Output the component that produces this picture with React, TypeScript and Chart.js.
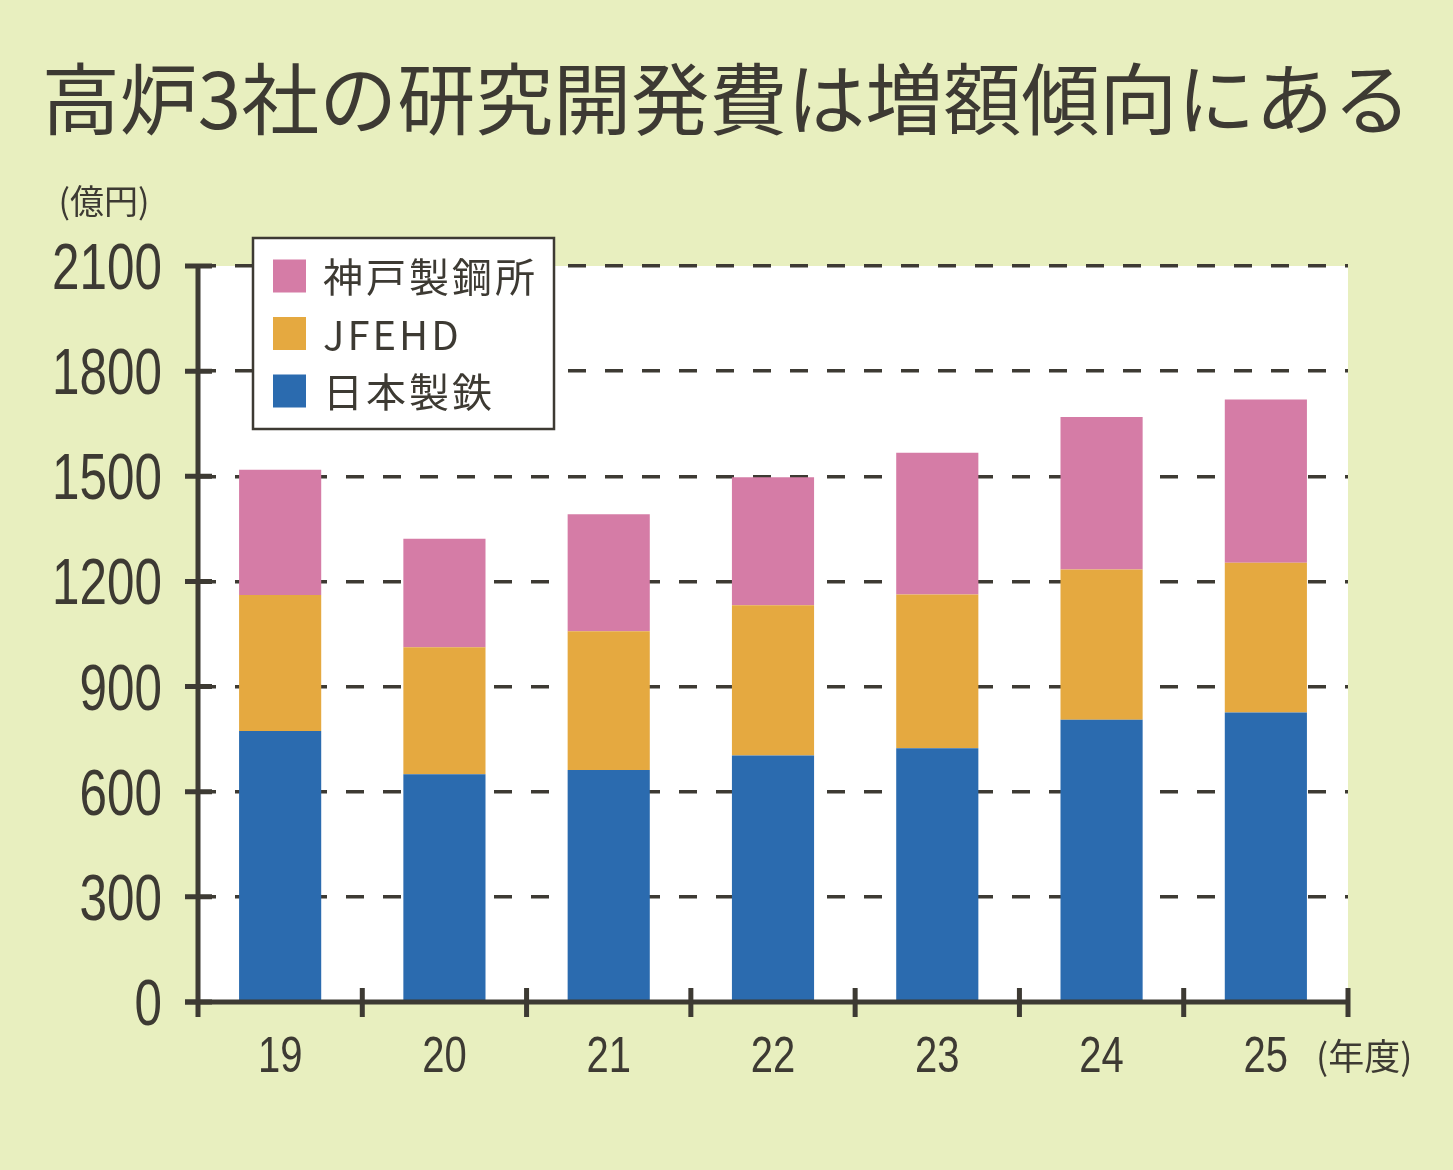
import React, { useEffect, useRef } from 'react';
import { Chart, registerables } from 'chart.js';

Chart.register(...registerables);

const title = '高炉3社の研究開発費は増額傾向にある';
const unitLabel = '(億円)';
const yearLabel = '(年度)';

const years = ['19', '20', '21', '22', '23', '24', '25'];
const nipponSteel = [773, 650, 662, 703, 724, 805, 826];
const jfeHd = [388, 362, 396, 429, 439, 429, 427];
const kobeSteel = [358, 310, 334, 365, 404, 435, 466];
const yTicks = [0, 300, 600, 900, 1200, 1500, 1800, 2100];

const INK = '#3d3a33';
const BG = '#e8efbf';
const JP = '"Noto Sans CJK JP", sans-serif';
const NUM = '"Liberation Sans", Arial, sans-serif';

// background, title, axes, condensed tick labels and the boxed legend are drawn by hand
const framePlugin = {
  id: 'frame',
  beforeDraw(chart: any) {
    const { ctx, chartArea: a } = chart;
    ctx.save();
    ctx.fillStyle = BG;
    ctx.fillRect(0, 0, chart.width, chart.height);
    ctx.fillStyle = '#ffffff';
    ctx.fillRect(a.left, a.top, a.right - a.left, a.bottom - a.top);

    ctx.fillStyle = INK;
    ctx.textBaseline = 'middle';
    ctx.textAlign = 'center';
    ctx.font = `78px ${JP}`;
    ctx.fillText(title, chart.width / 2, 99);

    ctx.font = `34px ${JP}`;
    ctx.fillText(unitLabel, 104, 201);
    ctx.restore();
  },
  afterDatasetsDraw(chart: any) {
    const { ctx, chartArea: a } = chart;
    const x = chart.scales.x;
    const y = chart.scales.y;
    ctx.save();
    ctx.strokeStyle = INK;
    ctx.lineWidth = 5;
    ctx.lineCap = 'butt';

    // axes
    ctx.beginPath();
    ctx.moveTo(a.left, y.getPixelForValue(yTicks[yTicks.length - 1]) - 2);
    ctx.lineTo(a.left, a.bottom + 15);
    ctx.moveTo(a.left - 13, a.bottom);
    ctx.lineTo(a.right + 2, a.bottom);
    ctx.stroke();

    // y ticks cross the axis
    ctx.beginPath();
    yTicks.forEach((v) => {
      const py = y.getPixelForValue(v);
      ctx.moveTo(a.left - 13, py);
      ctx.lineTo(a.left + 14, py);
    });
    // x ticks on category borders
    for (let i = 1; i <= years.length; i++) {
      const px = x.getPixelForValue(i - 0.5);
      ctx.moveTo(px, a.bottom - 14);
      ctx.lineTo(px, a.bottom + 15);
    }
    ctx.stroke();

    // condensed tick labels
    ctx.fillStyle = INK;
    ctx.textBaseline = 'alphabetic';
    ctx.font = `65px ${NUM}`;
    ctx.textAlign = 'right';
    y.ticks.forEach((t: any) => {
      ctx.save();
      ctx.translate(a.left - 36, y.getPixelForValue(t.value));
      ctx.scale(0.76, 1);
      ctx.fillText(String(t.value), 0, 23);
      ctx.restore();
    });
    ctx.font = `50px ${NUM}`;
    ctx.textAlign = 'center';
    years.forEach((lab, i) => {
      ctx.save();
      ctx.translate(x.getPixelForValue(i), a.bottom + 70);
      ctx.scale(0.8, 1);
      ctx.fillText(lab, 0, 0);
      ctx.restore();
    });

    ctx.font = `36px ${JP}`;
    ctx.textAlign = 'left';
    ctx.textBaseline = 'middle';
    ctx.fillText(yearLabel, 1316, 1056);

    // legend, top entry is the top of the stack
    const bx = 253;
    const by = 238;
    ctx.fillStyle = '#ffffff';
    ctx.fillRect(bx, by, 301, 191);
    ctx.lineWidth = 2.5;
    ctx.strokeRect(bx, by, 301, 191);
    const sets = [...chart.data.datasets].reverse();
    ctx.font = `40px ${JP}`;
    (ctx as any).letterSpacing = '3px';
    sets.forEach((ds: any, i: number) => {
      const cy = 276 + i * 57.5;
      ctx.fillStyle = ds.backgroundColor;
      ctx.fillRect(273, cy - 16.5, 33, 33);
      ctx.fillStyle = INK;
      ctx.fillText(ds.label, 323, cy + 1);
    });
    ctx.restore();
  },
};

const App: React.FC = () => {
  const chartRef = useRef<HTMLCanvasElement>(null);

  useEffect(() => {
    document.body.style.margin = '0';
    if (!chartRef.current) return;
    const chart = new Chart(chartRef.current, {
      type: 'bar',
      data: {
        labels: years,
        datasets: [
          { label: '日本製鉄', data: nipponSteel, backgroundColor: '#2b6baf' },
          { label: 'JFEHD', data: jfeHd, backgroundColor: '#e5a940' },
          { label: '神戸製鋼所', data: kobeSteel, backgroundColor: '#d57ca6' },
        ],
      },
      options: {
        animation: false,
        responsive: true,
        maintainAspectRatio: false,
        layout: { padding: { top: 266, left: 0, right: 105, bottom: 0 } },
        datasets: { bar: { categoryPercentage: 1, barPercentage: 0.5 } },
        plugins: { legend: { display: false }, tooltip: { enabled: false } },
        scales: {
          x: {
            stacked: true,
            grid: { display: false },
            border: { display: false },
            ticks: { display: false },
            afterFit: (s: any) => {
              s.height = 168;
            },
          },
          y: {
            stacked: true,
            min: 0,
            max: 2100,
            afterBuildTicks: (s: any) => {
              s.ticks = yTicks.map((v) => ({ value: v }));
            },
            grid: { color: INK, lineWidth: 3.5, drawTicks: false },
            border: { display: false, dash: [18, 19] },
            ticks: { display: false },
            afterFit: (s: any) => {
              s.width = 198;
            },
          },
        },
      },
      plugins: [framePlugin],
    });
    return () => chart.destroy();
  }, []);

  return (
    <div style={{ width: 1453, height: 1170, position: 'relative', background: BG }}>
      <canvas ref={chartRef} />
    </div>
  );
};

export default App;
